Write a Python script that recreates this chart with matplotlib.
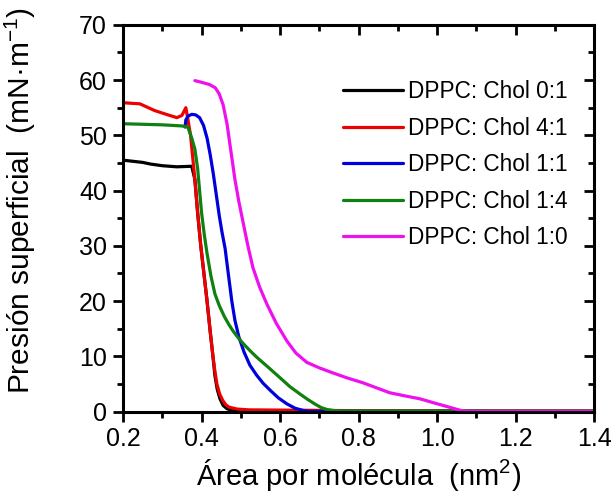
import matplotlib
matplotlib.use("Agg")
import matplotlib.pyplot as plt
import matplotlib.lines as mlines
from matplotlib.ticker import MultipleLocator

plt.rcParams['font.family'] = ['Liberation Sans', 'DejaVu Sans']
plt.rcParams['mathtext.fontset'] = 'custom'
plt.rcParams['mathtext.rm'] = 'Liberation Sans'
plt.rcParams['mathtext.it'] = 'Liberation Sans:italic'

# isotherms: area (nm^2) vs surface pressure (mN/m)
area_0_1 = [0.20, 0.25, 0.27, 0.30, 0.337, 0.375, 0.383, 0.39, 0.398, 0.406, 0.414, 0.422, 0.429, 0.434, 0.44, 0.447, 0.455, 0.465, 0.48, 0.55, 1.40]
pres_0_1 = [45.5, 45.1, 44.8, 44.5, 44.3, 44.4, 42.0, 36.0, 30.0, 25.0, 20.0, 14.5, 10.0, 6.5, 4.0, 2.3, 1.1, 0.5, 0.15, 0.05, 0.05]

area_4_1 = [0.20, 0.243, 0.28, 0.31, 0.337, 0.35, 0.360, 0.365, 0.372, 0.383, 0.39, 0.398, 0.406, 0.414, 0.422, 0.429, 0.434, 0.439, 0.446, 0.454, 0.462, 0.47, 0.49, 0.52, 0.80, 1.40]
pres_4_1 = [55.9, 55.7, 54.5, 53.8, 53.2, 53.6, 55.0, 53.0, 50.0, 42.0, 36.0, 30.0, 25.0, 20.0, 14.5, 10.0, 7.3, 5.0, 3.2, 2.0, 1.2, 0.8, 0.45, 0.3, 0.15, 0.1]

area_1_1 = [0.358, 0.36, 0.366, 0.375, 0.385, 0.395, 0.405, 0.414, 0.422, 0.43, 0.437, 0.445, 0.452, 0.46, 0.468, 0.477, 0.485, 0.495, 0.508, 0.523, 0.54, 0.557, 0.574, 0.595, 0.617, 0.638, 0.658, 0.67, 1.40]
pres_1_1 = [51.5, 52.8, 53.5, 53.8, 53.7, 53.2, 51.8, 49.5, 46.5, 43.0, 39.5, 35.5, 32.5, 29.5, 25.0, 20.0, 16.5, 13.5, 10.8, 8.4, 6.6, 5.1, 3.9, 2.5, 1.4, 0.6, 0.2, 0.05, 0.0]

area_1_4 = [0.20, 0.25, 0.30, 0.35, 0.365, 0.375, 0.383, 0.39, 0.40, 0.407, 0.414, 0.424, 0.434, 0.445, 0.458, 0.47, 0.48, 0.495, 0.51, 0.525, 0.541, 0.57, 0.60, 0.625, 0.65, 0.67, 0.69, 0.705, 0.72, 0.74, 0.76, 1.40]
pres_1_4 = [52.1, 52.0, 51.9, 51.7, 51.5, 49.5, 47.5, 44.0, 36.0, 32.0, 28.6, 24.5, 21.3, 19.2, 17.2, 15.7, 14.6, 13.2, 12.0, 10.9, 9.8, 8.0, 6.1, 4.5, 3.2, 2.2, 1.3, 0.7, 0.35, 0.15, 0.1, 0.1]

area_1_0 = [0.383, 0.40, 0.42, 0.435, 0.445, 0.455, 0.465, 0.475, 0.485, 0.495, 0.505, 0.518, 0.531, 0.548, 0.566, 0.59, 0.617, 0.64, 0.668, 0.70, 0.734, 0.77, 0.811, 0.845, 0.879, 0.92, 0.956, 0.99, 1.02, 1.045, 1.06, 1.08, 1.40]
pres_1_0 = [59.9, 59.6, 59.2, 58.6, 57.5, 55.5, 52.0, 47.0, 42.0, 38.0, 34.5, 30.0, 26.0, 22.5, 19.5, 16.0, 12.8, 10.6, 8.9, 7.9, 7.0, 6.1, 5.2, 4.3, 3.4, 2.8, 2.3, 1.6, 1.0, 0.5, 0.2, 0.05, 0.05]

labels = ['DPPC: Chol 0:1', 'DPPC: Chol 4:1', 'DPPC: Chol 1:1', 'DPPC: Chol 1:4', 'DPPC: Chol 1:0']
colors = ['#000000', '#ee0000', '#0000dd', '#108010', '#ee11ee']
series = [(area_0_1, pres_0_1), (area_4_1, pres_4_1), (area_1_1, pres_1_1),
          (area_1_4, pres_1_4), (area_1_0, pres_1_0)]

fig = plt.figure(figsize=(6.12, 4.97), dpi=100)
ax = fig.add_axes([0.201, 0.172, 0.770, 0.778])

for (x, y), lab, c in zip(series, labels, colors):
    ax.plot(x, y, color=c, lw=2.3, label=lab, solid_joinstyle='round', solid_capstyle='round')

ax.set_xlim(0.2, 1.4)
ax.set_ylim(0, 70)
ax.xaxis.set_major_locator(MultipleLocator(0.2))
ax.xaxis.set_minor_locator(MultipleLocator(0.1))
ax.yaxis.set_major_locator(MultipleLocator(10))
ax.yaxis.set_minor_locator(MultipleLocator(5))
ax.xaxis.set_major_formatter('{x:.1f}')

for s in ax.spines.values():
    s.set_linewidth(2.2)
ax.tick_params(which='both', direction='out', top=True, right=True, width=2.0)
ax.tick_params(which='major', length=7, labelsize=18, pad=4.5)
ax.tick_params(which='minor', length=4)

ax.set_xlabel('Área por molécula  (nm$^2$)', fontsize=21, labelpad=4)
ax.set_ylabel('Presión superficial  (mN·m$^{-1}$)', fontsize=21.5)
ax.yaxis.set_label_coords(-0.18, 0.545)

ax.legend(loc='upper left', bbox_to_anchor=(343 / 612, 1 - 80 / 497), bbox_transform=fig.transFigure,
          frameon=False, fontsize=16.3, handlelength=2.65, handletextpad=0.2,
          labelspacing=0.6, borderpad=0, borderaxespad=0)

# Origin style: bottom/left ticks point out, top/right ticks point in
for t in ax.xaxis.get_major_ticks() + ax.xaxis.get_minor_ticks():
    t.tick2line.set_marker(mlines.TICKDOWN)
for t in ax.yaxis.get_major_ticks() + ax.yaxis.get_minor_ticks():
    t.tick2line.set_marker(mlines.TICKLEFT)

fig.savefig('out.png', dpi=100)
